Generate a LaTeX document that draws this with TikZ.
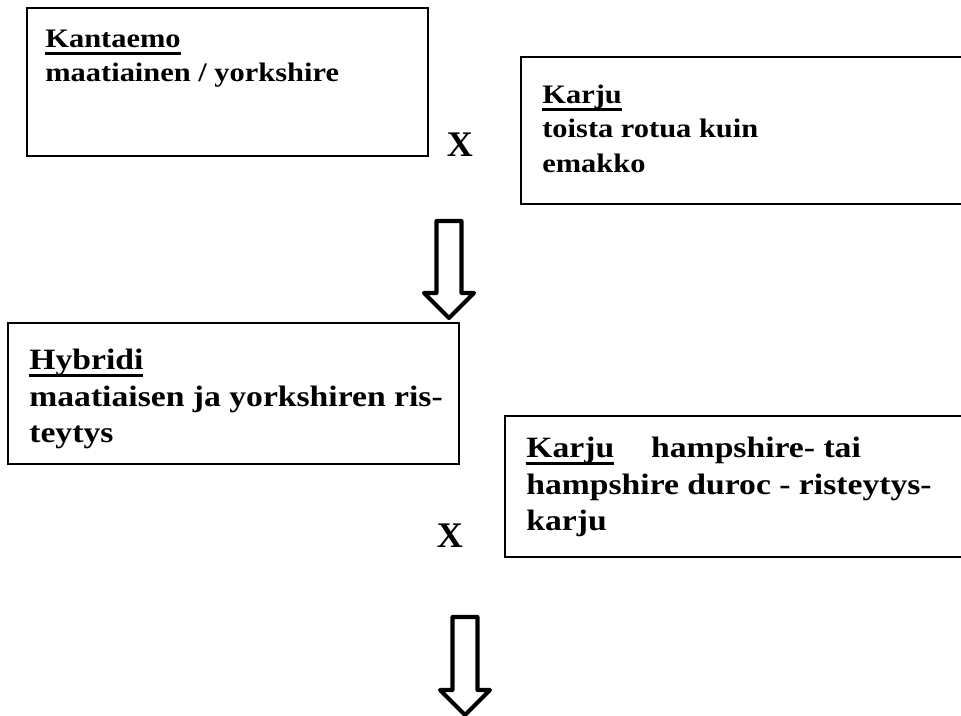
\documentclass[tikz,border=0pt]{standalone}
\usepackage{fontspec}
\setmainfont{Liberation Serif}
\newfontfamily\boxfont[FakeStretch=1.14]{Liberation Serif}
\usepackage{tikz}
\usetikzlibrary{positioning}
\newcommand{\otsikko}[1]{\setbox0=\hbox{#1}\leavevmode\rlap{\vrule width\wd0 height -2.2pt depth 4pt}\box0}

\begin{document}
\begin{tikzpicture}[x=0.02cm, y=-0.02cm, box/.style={draw, line width=1.2pt, inner sep=0pt, outer sep=0pt, anchor=north west}, txt/.style={anchor=north west, inner sep=0pt, align=left, font=\boxfont\bfseries\fontsize{15.2pt}{19.4pt}\selectfont}, txtb/.style={txt, font=\boxfont\bfseries\fontsize{16.8pt}{20.6pt}\selectfont}, cross/.style={inner sep=0pt, font=\bfseries\fontsize{20.5pt}{22pt}\selectfont}, blockarr/.style={draw, line width=2.3pt, line join=round}]
\useasboundingbox (0,0) rectangle (961,716);
\clip (0,0) rectangle (961,716);
% parents: sow x boar
\node[box, minimum width=8.02cm, minimum height=2.96cm] (kantaemo) at (27,8) {};
\node[txt] (kantaemoT) at (45,30) {\otsikko{Kantaemo}\\maatiainen / yorkshire};
\node[box, minimum width=9.08cm, minimum height=2.94cm] (karju) at (521,57) {};
\node[txt] (karjuT) at (542,85) {\otsikko{Karju}\\toista rotua kuin\\emakko};
\node[cross] (x1) at (460,145) {X};
% first generation
\coordinate (a1) at (449,221);
\draw[blockarr] (a1) ++(-12.5,0) -- ++(0,72) -- ++(-12.5,0) -- ++(25,25) -- ++(25,-25) -- ++(-12.5,0) -- ++(0,-72) -- cycle;
\node[box, minimum width=9.02cm, minimum height=2.82cm] (hybridi) at (8,323) {};
\node[txtb] (hybridiT) at (29,349) {\otsikko{Hybridi}\\maatiaisen ja yorkshiren ris-\\teytys};
\node[box, minimum width=9.4cm, minimum height=2.82cm] (karju2) at (505,416) {};
\node[txtb] (karju2T) at (526,437) {\otsikko{Karju}\hspace{0.74cm}hampshire- tai\\hampshire duroc - risteytys-\\karju};
\node[cross] (x2) at (450,536) {X};
% second generation
\coordinate (a2) at (465,617);
\draw[blockarr] (a2) ++(-12.5,0) -- ++(0,73) -- ++(-12.5,0) -- ++(25,25) -- ++(25,-25) -- ++(-12.5,0) -- ++(0,-73) -- cycle;
\end{tikzpicture}
\end{document}
